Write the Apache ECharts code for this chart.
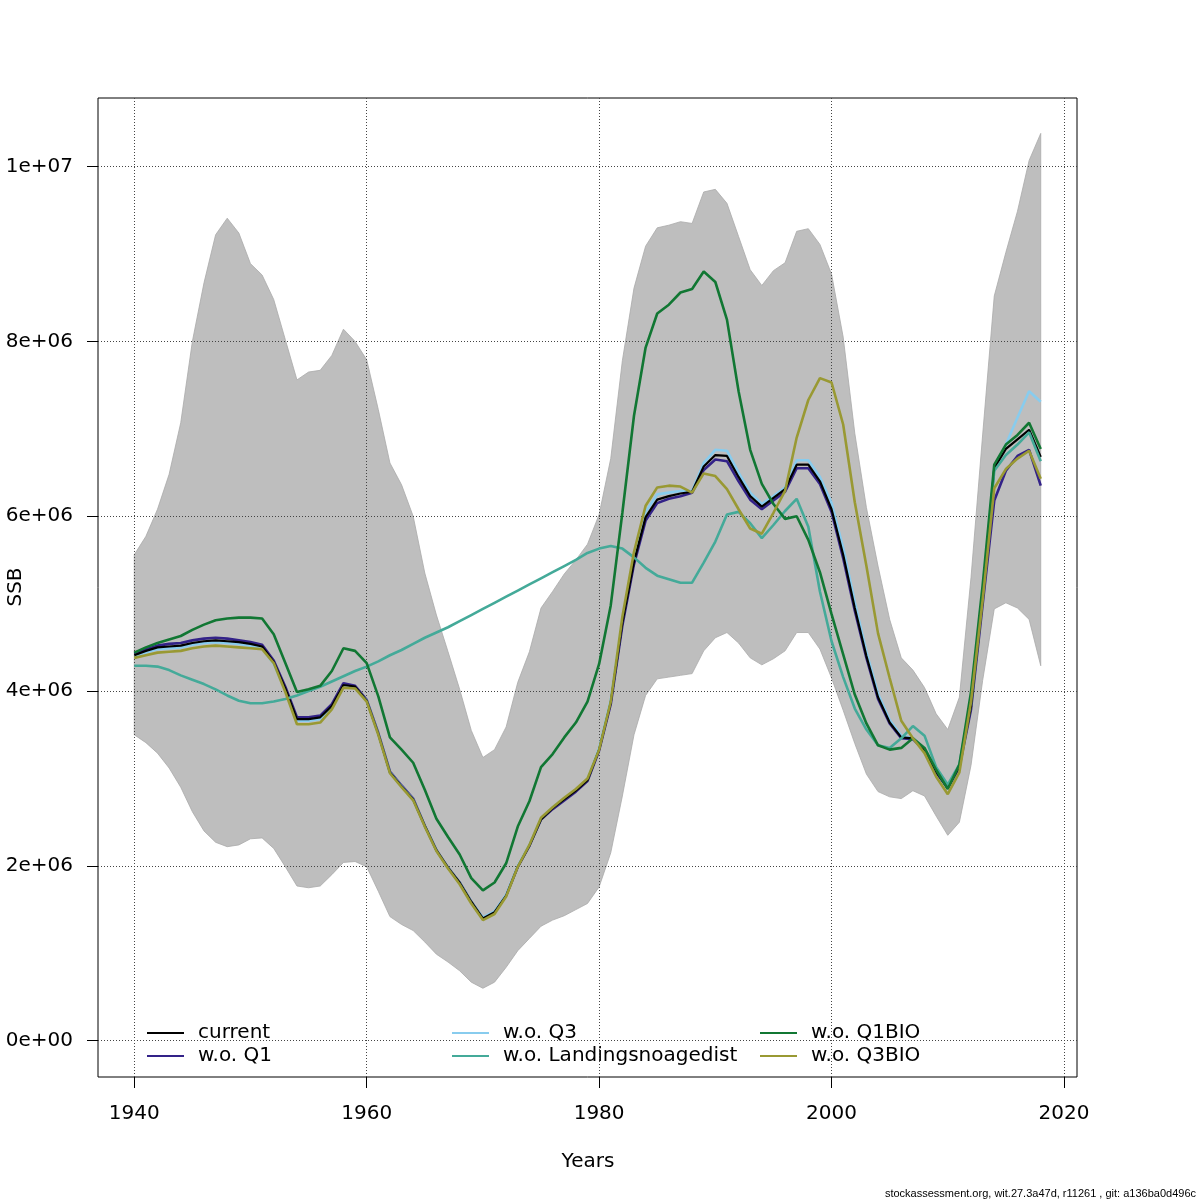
<!DOCTYPE html>
<html>
<head>
<meta charset="utf-8">
<title>SSB</title>
<script src="https://cdn.jsdelivr.net/npm/echarts@6/dist/echarts.min.js"></script>
<style>
  html, body { margin: 0; background: #fff; }
  #chart { width: 1200px; height: 1200px; }
</style>
</head>
<body>
<div id="chart"></div>
<script>
// SSB in millions, one value per year 1940..2018
const years = Array.from({ length: 79 }, (_, i) => 1940 + i);

const upper = [5.56,5.77,6.08,6.48,7.07,8.00,8.67,9.22,9.41,9.24,
  8.89,8.76,8.48,8.02,7.56,7.65,7.67,7.84,8.14,8.00,
  7.79,7.22,6.61,6.36,6.00,5.35,4.87,4.45,4.02,3.55,
  3.24,3.33,3.59,4.10,4.45,4.95,5.14,5.34,5.50,5.68,
  6.02,6.66,7.78,8.61,9.09,9.30,9.33,9.37,9.35,9.71,
  9.74,9.58,9.20,8.82,8.64,8.81,8.90,9.26,9.29,9.11,
  8.77,8.05,6.95,6.10,5.43,4.82,4.38,4.24,4.04,3.74,
  3.56,3.93,5.30,6.93,8.52,9.02,9.49,10.07,10.38];

const lower = [3.50,3.41,3.29,3.12,2.90,2.62,2.40,2.27,2.22,2.24,
  2.31,2.32,2.20,1.99,1.77,1.75,1.77,1.90,2.04,2.05,
  1.99,1.71,1.42,1.33,1.26,1.13,0.99,0.90,0.80,0.67,
  0.60,0.67,0.84,1.03,1.17,1.31,1.38,1.43,1.50,1.57,
  1.76,2.15,2.80,3.50,3.95,4.14,4.16,4.18,4.20,4.46,
  4.61,4.67,4.55,4.38,4.30,4.37,4.46,4.67,4.67,4.48,
  4.15,3.78,3.40,3.05,2.85,2.79,2.77,2.86,2.80,2.57,
  2.35,2.50,3.15,4.12,4.94,5.01,4.95,4.82,4.29];

const current = [4.41,4.46,4.50,4.51,4.52,4.55,4.57,4.58,4.57,4.56,
  4.54,4.51,4.33,4.03,3.68,3.68,3.70,3.83,4.07,4.05,
  3.89,3.51,3.07,2.91,2.76,2.46,2.18,1.98,1.81,1.59,
  1.40,1.47,1.66,1.99,2.23,2.53,2.66,2.76,2.86,2.98,
  3.33,3.87,4.78,5.48,5.99,6.19,6.23,6.26,6.28,6.57,
  6.70,6.69,6.45,6.23,6.11,6.21,6.31,6.59,6.59,6.40,
  6.08,5.56,4.95,4.40,3.93,3.64,3.47,3.46,3.33,3.08,
  2.89,3.14,3.82,5.05,6.55,6.77,6.88,6.99,6.68];

const woQ1 = [4.43,4.48,4.52,4.54,4.55,4.58,4.60,4.61,4.60,4.58,
  4.56,4.53,4.35,4.05,3.70,3.70,3.72,3.85,4.09,4.06,
  3.90,3.52,3.08,2.92,2.77,2.46,2.18,1.98,1.81,1.59,
  1.40,1.47,1.66,1.99,2.23,2.53,2.65,2.75,2.85,2.97,
  3.32,3.85,4.75,5.45,5.95,6.15,6.20,6.23,6.27,6.53,
  6.65,6.63,6.40,6.19,6.08,6.18,6.28,6.55,6.55,6.37,
  6.05,5.52,4.92,4.38,3.91,3.63,3.46,3.45,3.32,3.07,
  2.89,3.13,3.79,4.99,6.18,6.52,6.69,6.76,6.35];

const woQ3 = [4.40,4.44,4.48,4.49,4.50,4.53,4.55,4.56,4.55,4.54,
  4.52,4.49,4.31,4.01,3.66,3.66,3.68,3.81,4.06,4.04,
  3.89,3.51,3.07,2.91,2.76,2.46,2.18,1.98,1.81,1.59,
  1.41,1.48,1.67,2.00,2.24,2.54,2.67,2.77,2.87,2.99,
  3.35,3.90,4.82,5.53,6.05,6.25,6.27,6.29,6.29,6.61,
  6.76,6.75,6.50,6.27,6.14,6.23,6.33,6.64,6.64,6.45,
  6.15,5.64,5.02,4.45,3.97,3.67,3.49,3.46,3.34,3.09,
  2.90,3.15,3.84,5.08,6.57,6.82,7.13,7.43,7.31];

const woLanding = [4.29,4.29,4.28,4.24,4.18,4.13,4.08,4.02,3.95,3.89,
  3.86,3.86,3.88,3.91,3.95,4.00,4.05,4.11,4.17,4.23,
  4.28,4.34,4.41,4.47,4.54,4.61,4.67,4.73,4.80,4.87,
  4.94,5.01,5.08,5.15,5.22,5.29,5.36,5.43,5.50,5.58,
  5.63,5.66,5.63,5.53,5.41,5.32,5.28,5.24,5.24,5.47,
  5.71,6.02,6.05,5.92,5.75,5.90,6.06,6.20,5.88,5.14,
  4.57,4.16,3.80,3.56,3.38,3.35,3.46,3.60,3.49,3.13,
  2.93,3.16,3.91,5.10,6.52,6.70,6.82,6.96,6.63];

const woQ1BIO = [4.44,4.50,4.55,4.59,4.63,4.70,4.76,4.81,4.83,4.84,
  4.84,4.83,4.65,4.32,3.99,4.02,4.06,4.23,4.49,4.46,
  4.32,3.94,3.47,3.33,3.18,2.87,2.54,2.33,2.13,1.86,
  1.72,1.81,2.03,2.45,2.74,3.13,3.28,3.47,3.64,3.88,
  4.31,4.98,6.04,7.15,7.93,8.32,8.42,8.56,8.60,8.80,
  8.68,8.25,7.43,6.76,6.37,6.14,5.97,6.00,5.73,5.36,
  4.88,4.42,3.96,3.63,3.38,3.33,3.35,3.46,3.35,3.10,
  2.88,3.16,3.99,5.21,6.59,6.82,6.93,7.07,6.77];

const woQ3BIO = [4.38,4.41,4.44,4.45,4.46,4.49,4.51,4.52,4.51,4.50,
  4.49,4.48,4.32,3.99,3.62,3.62,3.64,3.79,4.04,4.03,
  3.88,3.50,3.06,2.90,2.75,2.45,2.17,1.97,1.79,1.57,
  1.38,1.45,1.65,1.99,2.24,2.55,2.67,2.78,2.88,3.00,
  3.33,3.88,4.85,5.59,6.12,6.33,6.35,6.34,6.27,6.49,
  6.46,6.31,6.08,5.86,5.80,6.04,6.29,6.90,7.33,7.58,
  7.53,7.05,6.16,5.43,4.66,4.15,3.66,3.46,3.29,3.02,
  2.82,3.07,3.88,5.04,6.32,6.54,6.66,6.75,6.43];

const xTicks = [1940, 1960, 1980, 2000, 2020];
const yTicks = [0, 2, 4, 6, 8, 10];

const FONT = 'DejaVu Sans';

const pairs = (vals) => years.map((y, i) => [y, vals[i]]);

// R-style "2e+06" labels
const sci = (v) => {
  if (v === 0) return '0e+00';
  const n = v * 1e6;
  const e = Math.floor(Math.log10(n) + 1e-9);
  const m = Math.round(n / Math.pow(10, e));
  return m + 'e+' + String(e).padStart(2, '0');
};

const fit = (name, vals, color, width) => ({
  name: name,
  type: 'line',
  data: pairs(vals),
  symbol: 'none',
  z: 5,
  lineStyle: { color: color, width: width },
  itemStyle: { color: color }
});

// confidence band as a single polygon: upper edge forward, lower edge back
const bandItem = (params, api) => {
  if (params.dataIndex !== 0) return null;
  const pts = [];
  for (let i = 0; i < years.length; i++) pts.push(api.coord([years[i], upper[i]]));
  for (let i = years.length - 1; i >= 0; i--) pts.push(api.coord([years[i], lower[i]]));
  return {
    type: 'polygon',
    shape: { points: pts },
    style: { fill: '#bebebe', stroke: '#a9a9a9', lineWidth: 0.8 }
  };
};

const chart = echarts.init(document.getElementById('chart'), null, { renderer: 'canvas' });

const legendBase = {
  orient: 'vertical',
  top: 1018,
  itemWidth: 37,
  itemHeight: 14,
  itemGap: 3,
  icon: 'path://M0,6 L37,6 L37,8 L0,8 Z',
  textStyle: { fontFamily: FONT, fontSize: 20, color: '#000', padding: [0, 0, 0, 9] }
};

chart.setOption({
  animation: false,
  backgroundColor: '#fff',
  grid: {
    left: 98, top: 98, width: 979, height: 979,
    show: true, borderColor: '#000', borderWidth: 1, backgroundColor: 'transparent'
  },
  xAxis: {
    type: 'value',
    min: 1936.88,
    max: 2021.12,
    axisLine: { show: false, onZero: false },
    splitLine: { show: false },
    axisTick: { show: true, length: 11, customValues: xTicks, lineStyle: { color: '#000' } },
    axisLabel: {
      customValues: xTicks, margin: 27,
      fontFamily: FONT, fontSize: 20, color: '#000',
      formatter: (v) => String(v)
    }
  },
  yAxis: {
    type: 'value',
    min: -0.415,
    max: 10.785,
    axisLine: { show: false, onZero: false },
    splitLine: { show: false },
    axisTick: { show: true, length: 11, customValues: yTicks, lineStyle: { color: '#000' } },
    axisLabel: {
      customValues: yTicks, margin: 25,
      fontFamily: FONT, fontSize: 20, color: '#000',
      formatter: sci
    }
  },
  legend: [
    Object.assign({ left: 142, data: ['current', 'w.o. Q1'] }, legendBase),
    Object.assign({ left: 447, data: ['w.o. Q3', 'w.o. Landingsnoagedist'] }, legendBase),
    Object.assign({ left: 755, data: ['w.o. Q1BIO', 'w.o. Q3BIO'] }, legendBase)
  ],
  graphic: [
    {
      type: 'text', x: 16, y: 587, rotation: Math.PI / 2,
      style: { text: 'SSB', font: '20px "DejaVu Sans"', fill: '#000', align: 'center', verticalAlign: 'middle' }
    },
    {
      type: 'text', x: 588, y: 1162,
      style: { text: 'Years', font: '20px "DejaVu Sans"', fill: '#000', align: 'center', verticalAlign: 'middle' }
    },
    {
      type: 'text', x: 1196, y: 1194,
      style: {
        text: 'stockassessment.org, wit.27.3a47d, r11261 , git: a136ba0d496c',
        font: '11px "Liberation Sans"', fill: '#000', align: 'right', verticalAlign: 'middle'
      }
    }
  ],
  series: [
    {
      name: 'band',
      type: 'custom',
      renderItem: bandItem,
      data: years.map((y, i) => [y, lower[i], upper[i]]),
      encode: { x: 0, y: [1, 2] },
      silent: true,
      clip: true,
      z: 1
    },
    {
      name: 'grid',
      type: 'line',
      data: [],
      silent: true,
      z: 3,
      markLine: {
        silent: true,
        symbol: 'none',
        label: { show: false },
        animation: false,
        lineStyle: { color: '#444', width: 1, type: [1, 2] },
        data: xTicks.map(v => ({ xAxis: v })).concat(yTicks.map(v => ({ yAxis: v })))
      }
    },
    fit('w.o. Q1', woQ1, '#332288', 2.6),
    fit('w.o. Q3', woQ3, '#88CCEE', 2.6),
    fit('current', current, '#000000', 2.2),
    fit('w.o. Landingsnoagedist', woLanding, '#44AA99', 2.6),
    fit('w.o. Q1BIO', woQ1BIO, '#117733', 2.6),
    fit('w.o. Q3BIO', woQ3BIO, '#999933', 2.6)
  ]
});
</script>
</body>
</html>
